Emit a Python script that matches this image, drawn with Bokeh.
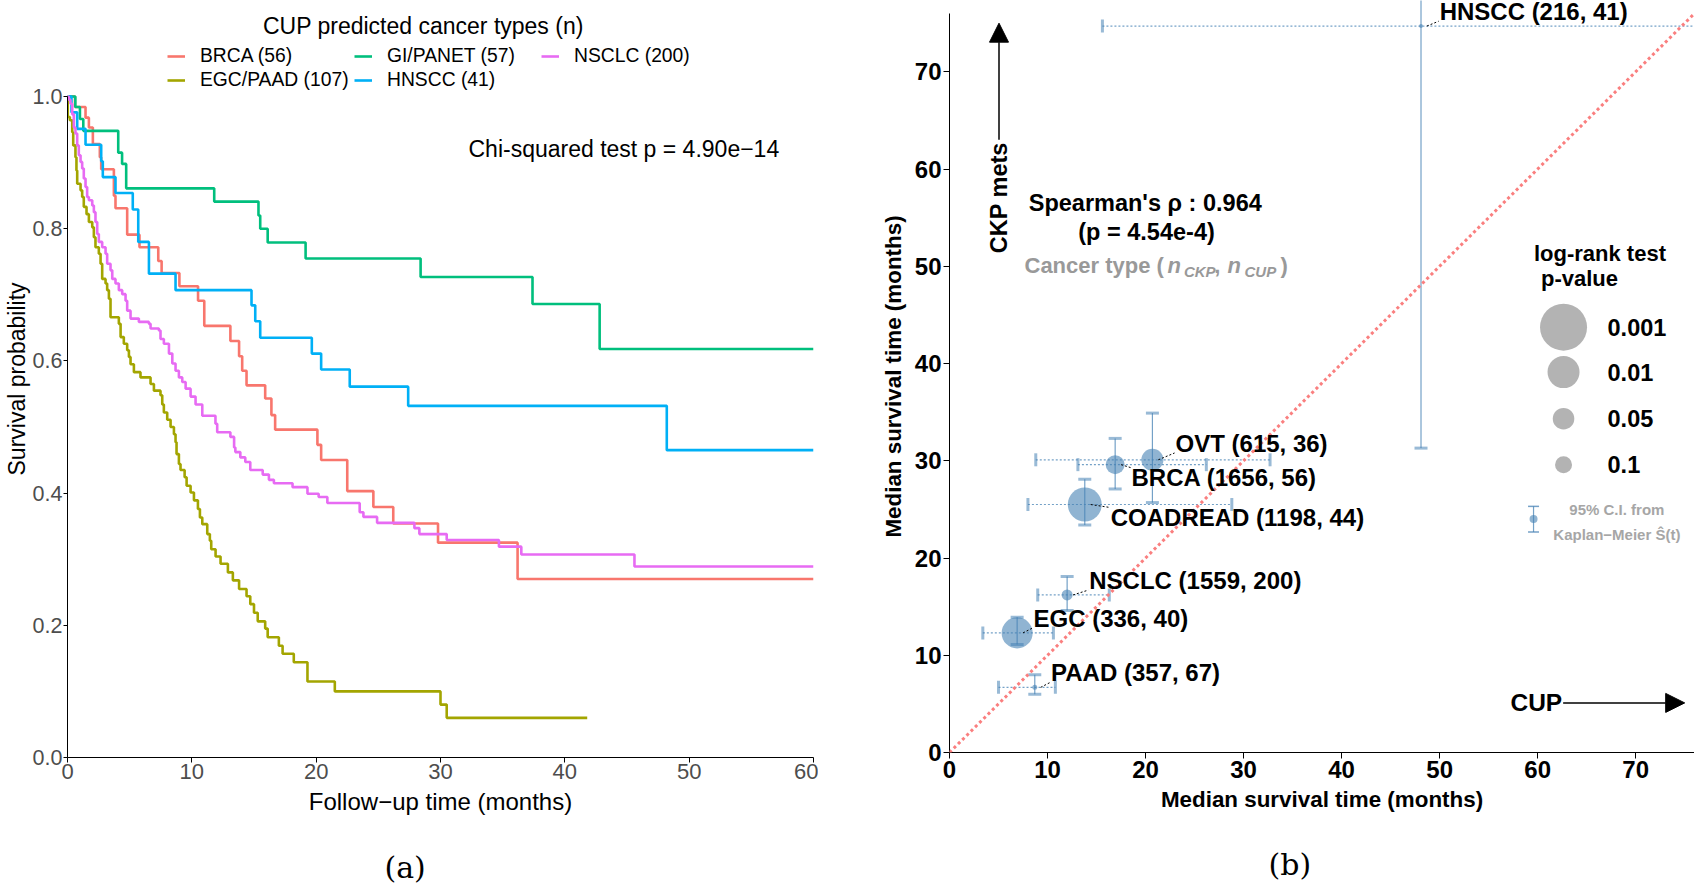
import math
from bokeh.plotting import figure
from bokeh.models import (ColumnDataSource, Legend, LegendItem, Label, LabelSet, Whisker,
                          TeeHead, Arrow, NormalHead, Slope, FixedTicker, Title, LinearAxis,
                          PrintfTickFormatter, Range1d)
from bokeh.layouts import row
from bokeh.embed import file_html
from bokeh.resources import INLINE
from bokeh.core.properties import value

# ---------------- panel (a): Kaplan-Meier curves ----------------
km_names = ["BRCA (56)", "EGC/PAAD (107)", "GI/PANET (57)", "HNSCC (41)", "NSCLC (200)"]
km_colors = ["#F8766D", "#A3A500", "#00BF7D", "#00B0F6", "#E76BF3"]

brca_t = [0, 0.6, 1.45, 1.72, 2.04, 2.6, 2.71, 3.73, 3.86, 4.8, 5.79, 7.3, 7.57, 9.0, 10.5,
          11.0, 13.1, 13.8, 14.05, 14.4, 15.9, 16.4, 16.7, 20.1, 20.4, 22.5, 24.6, 26.2,
          29.8, 36.2, 60]
brca_s = [1.0, 0.984, 0.968, 0.953, 0.928, 0.908, 0.890, 0.850, 0.831, 0.791, 0.772, 0.751,
          0.733, 0.713, 0.691, 0.653, 0.630, 0.607, 0.585, 0.563, 0.543, 0.518, 0.496, 0.473,
          0.450, 0.403, 0.379, 0.354, 0.325, 0.270, 0.270]

egc_paad_t = [0, 0.02, 0.19, 0.38, 0.46, 0.64, 0.72, 0.78, 1.05, 1.18, 1.31, 1.53, 1.72, 1.99,
              2.12, 2.25, 2.52, 2.66, 2.79, 3.06, 3.19, 3.33, 3.46, 4.13, 4.27, 4.53, 4.8, 4.94,
              5.07, 5.34, 5.87, 6.68, 6.95, 7.48, 7.62, 7.75, 8.02, 8.29, 8.56, 8.69, 8.77,
              8.96, 9.09, 9.42, 9.58, 9.9, 10.17, 10.49, 10.65, 10.84, 11.24, 11.45, 11.56,
              11.91, 12.31, 12.9, 13.3, 13.8, 14.4, 14.7, 15.0, 15.3, 15.9, 16.1, 17.0, 17.3,
              18.2, 19.3, 21.5, 30.0, 30.5, 41.8]
egc_paad_s = [1.0, 0.969, 0.964, 0.946, 0.926, 0.908, 0.888, 0.868, 0.858, 0.848, 0.833, 0.822,
              0.810, 0.802, 0.787, 0.772, 0.762, 0.747, 0.724, 0.717, 0.707, 0.694, 0.666,
              0.656, 0.636, 0.626, 0.616, 0.606, 0.595, 0.583, 0.575, 0.565, 0.555, 0.548,
              0.534, 0.522, 0.511, 0.500, 0.489, 0.477, 0.459, 0.444, 0.435, 0.424, 0.411,
              0.401, 0.389, 0.376, 0.363, 0.353, 0.338, 0.328, 0.315, 0.304, 0.293, 0.280,
              0.268, 0.255, 0.244, 0.232, 0.219, 0.206, 0.195, 0.182, 0.169, 0.157, 0.144,
              0.115, 0.100, 0.080, 0.060, 0.060]

gi_panet_t = [0, 0.63, 1.0, 1.27, 4.08, 4.39, 4.72, 11.8, 15.36, 15.5, 16.1, 19.15, 28.4,
              37.4, 42.8, 60]
gi_panet_s = [1.0, 0.984, 0.966, 0.948, 0.915, 0.898, 0.861, 0.841, 0.820, 0.800, 0.779,
              0.755, 0.727, 0.686, 0.618, 0.618]

hnscc_t = [0, 0.32, 0.78, 1.45, 2.71, 2.84, 3.86, 5.25, 5.69, 6.55, 8.69, 14.8, 15.1, 15.5,
           19.65, 20.4, 22.7, 27.4, 48.2, 60]
hnscc_s = [1.0, 0.976, 0.951, 0.927, 0.902, 0.878, 0.854, 0.829, 0.780, 0.732, 0.707, 0.684,
           0.660, 0.635, 0.611, 0.587, 0.561, 0.532, 0.465, 0.465]

nsclc_t = [0, 0.1, 0.24, 0.38, 0.51, 0.64, 0.78, 0.91, 1.05, 1.18, 1.31, 1.45, 1.58, 1.72,
           1.99, 2.12, 2.25, 2.39, 2.52, 2.79, 3.06, 3.19, 3.46, 3.6, 3.86, 4.13, 4.4, 4.67,
           4.8, 5.07, 5.74, 6.55, 6.68, 7.35, 7.48, 7.75, 8.16, 8.43, 8.69, 8.96, 9.23, 9.5,
           9.9, 10.3, 10.84, 11.9, 12.04, 13.1, 13.4, 13.5, 13.9, 14.3, 14.7, 15.7, 16.2,
           16.6, 18.1, 19.3, 20.2, 20.9, 23.5, 23.8, 24.9, 27.9, 28.3, 30.5, 34.7, 36.5,
           45.6, 60]
nsclc_s = [1.0, 0.995, 0.989, 0.973, 0.953, 0.944, 0.926, 0.911, 0.901, 0.891, 0.876, 0.863,
           0.848, 0.843, 0.835, 0.825, 0.810, 0.792, 0.780, 0.772, 0.762, 0.747, 0.737, 0.724,
           0.717, 0.707, 0.701, 0.691, 0.676, 0.664, 0.659, 0.656, 0.649, 0.646, 0.633, 0.626,
           0.611, 0.596, 0.585, 0.575, 0.568, 0.558, 0.546, 0.534, 0.517, 0.505, 0.492, 0.485,
           0.469, 0.462, 0.454, 0.447, 0.435, 0.428, 0.420, 0.415, 0.409, 0.399, 0.394, 0.385,
           0.371, 0.364, 0.355, 0.347, 0.338, 0.329, 0.319, 0.307, 0.289, 0.289]

km_times = [brca_t, egc_paad_t, gi_panet_t, hnscc_t, nsclc_t]
km_surv = [brca_s, egc_paad_s, gi_panet_s, hnscc_s, nsclc_s]

x_ticks_a = [0, 10, 20, 30, 40, 50, 60]
y_ticks_a = [0.0, 0.2, 0.4, 0.6, 0.8, 1.0]

# ---------------- panel (b): median survival CUP vs CKP ----------------
cancer = ["OVT", "BRCA", "COADREAD", "NSCLC", "EGC", "PAAD", "HNSCC"]
n_ckp = [615, 1656, 1198, 1559, 336, 357, 216]
n_cup = [36, 56, 44, 200, 40, 67, 41]
cup_median = [20.7, 16.9, 13.8, 12.0, 6.9, 8.7, 48.1]
cup_lo = [8.8, 13.1, 8.0, 9.0, 3.4, 5.0, 15.6]
cup_hi = [32.7, 26.2, 28.8, 16.3, 10.6, 10.8, float("nan")]
ckp_median = [30.1, 29.6, 25.5, 16.2, 12.3, 6.7, 74.7]
ckp_lo = [25.7, 27.1, 23.4, 14.6, 11.1, 6.0, 31.3]
ckp_hi = [34.9, 32.3, 28.1, 18.1, 13.9, 8.0, float("nan")]
logrank_p = [0.046, 0.074, 0.0074, 0.25, 0.0116, 0.63, 0.74]
legend_p = [0.001, 0.01, 0.05, 0.1]
ticks_b = [0, 10, 20, 30, 40, 50, 60, 70]

# label placement (layout)
label_x = [23.06, 18.57, 16.45, 14.26, 8.57, 10.36, 50.0]
label_y = [31.8, 28.3, 24.2, 17.7, 13.8, 8.2, 76.2]

FONT = "Liberation Sans"


def p_to_size(p):
    return 15.0 * (-math.log10(p)) + 2.0


def no_align(fig):
    try:
        fig.frame_align = False
    except Exception:
        pass


def spacer_axis(height, tick):
    # blank axis that only reserves vertical room below the real x axis
    return LinearAxis(ticker=FixedTicker(ticks=[tick]), major_tick_out=height, major_tick_in=0,
                      major_tick_line_color="white", minor_tick_line_color=None,
                      minor_tick_out=0, axis_line_color=None, major_label_standoff=0,
                      major_label_overrides={tick: ""}, major_label_text_font_size="1px")


# ================= figure (a) =================
pa = figure(width=818, height=887, x_range=Range1d(0, 60), y_range=Range1d(0, 1.1452),
            output_backend="svg", toolbar_location=None,
            min_border_left=67, min_border_right=5, min_border_top=0, min_border_bottom=130)
no_align(pa)
pa.outline_line_color = None
pa.grid.visible = False
pa.background_fill_color = "white"
pa.border_fill_color = "white"

items = []
for name, col, t, s in zip(km_names, km_colors, km_times, km_surv):
    src = ColumnDataSource(dict(t=t, s=s))
    r = pa.step(x="t", y="s", source=src, mode="after", line_color=col, line_width=2.6)
    items.append(LegendItem(label=name, renderers=[r]))

legend = Legend(items=items, orientation="vertical", nrows=2, location=(100, 666),
                border_line_color=None, background_fill_alpha=0, padding=0, margin=0,
                spacing=2, glyph_width=18, glyph_height=22, label_height=22,
                label_width=152, label_standoff=15,
                label_text_font=FONT, label_text_font_size="19.3px",
                label_text_color="black")
pa.add_layout(legend)

for ax in (pa.xaxis[0], pa.yaxis[0]):
    ax.axis_line_color = "black"
    ax.axis_line_width = 1
    ax.major_tick_line_color = "black"
    ax.major_tick_out = 5
    ax.major_tick_in = 0
    ax.minor_tick_line_color = None
    ax.major_label_text_font = FONT
    ax.major_label_text_font_size = "22px"
    ax.major_label_text_color = "#4D4D4D"
    ax.axis_label_text_font = FONT
    ax.axis_label_text_font_style = "normal"
    ax.axis_label_text_color = "black"
pa.xaxis[0].ticker = FixedTicker(ticks=x_ticks_a)
pa.yaxis[0].ticker = FixedTicker(ticks=y_ticks_a)
pa.yaxis[0].formatter = PrintfTickFormatter(format="%.1f")
pa.yaxis[0].bounds = (0, 1)
pa.yaxis[0].major_tick_out = 4
pa.yaxis[0].major_label_text_font_size = "21.5px"
pa.xaxis[0].major_label_standoff = 1
pa.yaxis[0].major_label_standoff = 1
pa.xaxis[0].axis_label = "Follow−up time (months)"
pa.xaxis[0].axis_label_text_font_size = "24px"
pa.xaxis[0].axis_label_standoff = 6
pa.yaxis[0].axis_label = "Survival probability"
pa.yaxis[0].axis_label_text_font_size = "23px"
pa.yaxis[0].axis_label_text_line_height = 1.0
pa.yaxis[0].axis_label_standoff = 0

pa.add_layout(Label(x=28.62, y=1.1059, text="CUP predicted cancer types (n)",
                    text_align="center", text_baseline="middle", text_font=FONT,
                    text_font_size="23px", text_color="black"))
pa.add_layout(Label(x=32.25, y=0.92, text="Chi-squared test p = 4.90e−14",
                    text_align="left", text_baseline="middle", text_font=FONT,
                    text_font_size="23px", text_color="black"))
pa.add_layout(spacer_axis(30, 30), "below")
pa.add_layout(Title(text="(a)", align="left", offset=317, standoff=0,
                    text_font="DejaVu Serif", text_font_size="30px",
                    text_font_style="normal", text_color="black"), "below")

# ================= figure (b) =================
pb = figure(width=876, height=887, x_range=Range1d(0, 76), y_range=Range1d(0, 77.33),
            output_backend="svg", toolbar_location=None,
            min_border_left=131, min_border_right=0, min_border_top=0, min_border_bottom=135)
no_align(pb)
pb.outline_line_color = None
pb.grid.visible = False
pb.background_fill_color = "white"
pb.border_fill_color = "white"

for ax in (pb.xaxis[0], pb.yaxis[0]):
    ax.ticker = FixedTicker(ticks=ticks_b)
    ax.axis_line_color = "black"
    ax.axis_line_width = 1
    ax.major_tick_line_color = "black"
    ax.major_tick_out = 6
    ax.major_tick_in = 0
    ax.minor_tick_line_color = None
    ax.major_label_text_font = FONT
    ax.major_label_text_font_style = "bold"
    ax.major_label_text_font_size = "24px"
    ax.major_label_text_color = "black"
    ax.major_label_standoff = 2
    ax.axis_label = "Median survival time (months)"
    ax.axis_label_text_font = FONT
    ax.axis_label_text_font_style = "bold"
    ax.axis_label_text_font_size = "22.4px"
    ax.axis_label_text_color = "black"
    ax.axis_label_standoff = 6
pb.yaxis[0].bounds = (0, 76)

# identity line
pb.add_layout(Slope(gradient=1, y_intercept=0, line_color="#FA7F7F", line_width=3,
                    line_dash="3 3"))

BIG = 100.0
src_b = ColumnDataSource(dict(
    x=cup_median, y=ckp_median,
    xlo=cup_lo, xhi=[v if not math.isnan(v) else BIG for v in cup_hi],
    ylo=ckp_lo, yhi=[v if not math.isnan(v) else BIG for v in ckp_hi],
    size=[p_to_size(p) for p in logrank_p],
    label=[f"{c} ({a}, {b})" for c, a, b in zip(cancer, n_ckp, n_cup)],
    lx=label_x, ly=label_y,
    sx=[x + 0.6 for x in cup_median],
    ex=[x - 0.1 for x in label_x],
    ey=[ly - 1.0 if ly > y else ly + 1.0 for ly, y in zip(label_y, ckp_median)],
))

CI = "#4682B4"
pb.add_layout(Whisker(source=src_b, base="x", lower="ylo", upper="yhi", dimension="height",
                      line_color=CI, line_alpha=0.75, line_width=1.2,
                      upper_head=TeeHead(size=13, line_width=3, line_color=CI, line_alpha=0.55),
                      lower_head=TeeHead(size=13, line_width=3, line_color=CI, line_alpha=0.55)))
pb.add_layout(Whisker(source=src_b, base="y", lower="xlo", upper="xhi", dimension="width",
                      line_color=CI, line_alpha=0.75, line_width=1.2, line_dash="2 2",
                      upper_head=TeeHead(size=13, line_width=3, line_color=CI, line_alpha=0.55),
                      lower_head=TeeHead(size=13, line_width=3, line_color=CI, line_alpha=0.55)))
pb.scatter(x="x", y="y", size="size", source=src_b, fill_color=CI, fill_alpha=0.6,
           line_color=None)
pb.segment(x0="sx", y0="y", x1="ex", y1="ey", source=src_b, line_color="black",
           line_width=1, line_dash="2 2")
pb.add_layout(LabelSet(x="lx", y="ly", text="label", source=src_b, text_align="left",
                       text_baseline="middle", text_font=value(FONT),
                       text_font_style="bold", text_font_size="24px", text_color="black"))

# arrows
pb.add_layout(Arrow(x_start=5.05, y_start=63.0, x_end=5.05, y_end=75.0, line_width=1.5,
                    end=NormalHead(size=19, fill_color="black", line_color="black")))
pb.add_layout(Arrow(x_start=62.6, y_start=5.1, x_end=75.0, y_end=5.1, line_width=1.5,
                    end=NormalHead(size=19, fill_color="black", line_color="black")))
pb.add_layout(Label(x=5.0, y=57.05, text="CKP mets", angle=math.pi / 2, text_align="center",
                    text_baseline="middle", text_font=FONT, text_font_style="bold",
                    text_font_size="23.5px", text_color="black"))
pb.add_layout(Label(x=62.5, y=5.1, text="CUP", text_align="right", text_baseline="middle",
                    text_font=FONT, text_font_style="bold", text_font_size="24.5px",
                    text_color="black"))

# correlation annotation
pb.add_layout(Label(x=19.97, y=56.5, text="Spearman's ρ : 0.964", text_align="center",
                    text_baseline="middle", text_font=FONT, text_font_style="bold",
                    text_font_size="23.5px", text_color="black"))
pb.add_layout(Label(x=20.1, y=53.5, text="(p = 4.54e-4)", text_align="center",
                    text_baseline="middle", text_font=FONT, text_font_style="bold",
                    text_font_size="23.5px", text_color="black"))
GRAY = "#999999"
ct_parts = [("Cancer type (", 7.65, 50.08, "bold", "22px"),
            ("n", 22.24, 50.08, "bold italic", "22px"),
            ("CKP", 23.91, 49.45, "bold italic", "15px"),
            (",", 27.0, 50.08, "bold", "22px"),
            ("n", 28.36, 50.08, "bold italic", "22px"),
            ("CUP", 30.09, 49.45, "bold italic", "15px"),
            (")", 33.76, 50.08, "bold", "22px")]
for txt, x, y, st, fs in ct_parts:
    pb.add_layout(Label(x=x, y=y, text=txt, text_align="left", text_baseline="middle",
                        text_font=FONT, text_font_style=st, text_font_size=fs,
                        text_color=GRAY))

# size legend
pb.add_layout(Label(x=59.62, y=51.3, text="log-rank test", text_align="left",
                    text_baseline="middle", text_font=FONT, text_font_style="bold",
                    text_font_size="22px", text_color="black"))
pb.add_layout(Label(x=60.34, y=48.75, text="p-value", text_align="left",
                    text_baseline="middle", text_font=FONT, text_font_style="bold",
                    text_font_size="22px", text_color="black"))
leg_y = [43.74, 39.12, 34.33, 29.6]
src_leg = ColumnDataSource(dict(x=[62.64] * 4, y=leg_y,
                                size=[p_to_size(p) for p in legend_p],
                                lab=[str(p) for p in legend_p], lx=[67.13] * 4))
pb.scatter(x="x", y="y", size="size", source=src_leg, fill_color="#B3B3B3",
           line_color=None)
pb.add_layout(LabelSet(x="lx", y="y", text="lab", source=src_leg, text_align="left",
                       text_baseline="middle", text_font=value(FONT),
                       text_font_style="bold", text_font_size="23.5px", text_color="black"))

src_ci = ColumnDataSource(dict(x=[59.58], lo=[22.67], hi=[25.31], y=[24.0]))
pb.add_layout(Whisker(source=src_ci, base="x", lower="lo", upper="hi", dimension="height",
                      line_color=CI, line_alpha=0.75, line_width=1.2,
                      upper_head=TeeHead(size=11, line_width=1.5, line_color=CI, line_alpha=0.75),
                      lower_head=TeeHead(size=11, line_width=1.5, line_color=CI, line_alpha=0.75)))
pb.scatter(x="x", y="y", size=8, source=src_ci, fill_color=CI, fill_alpha=0.6,
           line_color=None)
pb.add_layout(Label(x=68.08, y=24.97, text="95% C.I. from", text_align="center",
                    text_baseline="middle", text_font=FONT, text_font_style="bold",
                    text_font_size="15px", text_color="#A6A6A6"))
pb.add_layout(Label(x=68.08, y=22.44, text="Kaplan−Meier Ŝ(t)", text_align="center",
                    text_baseline="middle", text_font=FONT, text_font_style="bold",
                    text_font_size="15px", text_color="#A6A6A6"))

pb.add_layout(spacer_axis(30, 30), "below")
pb.add_layout(Title(text="(b)", align="left", offset=319, standoff=0,
                    text_font="DejaVu Serif", text_font_size="30px",
                    text_font_style="normal", text_color="black"), "below")

layout = row(pa, pb)
open("out.html", "w").write(file_html(layout, INLINE))
